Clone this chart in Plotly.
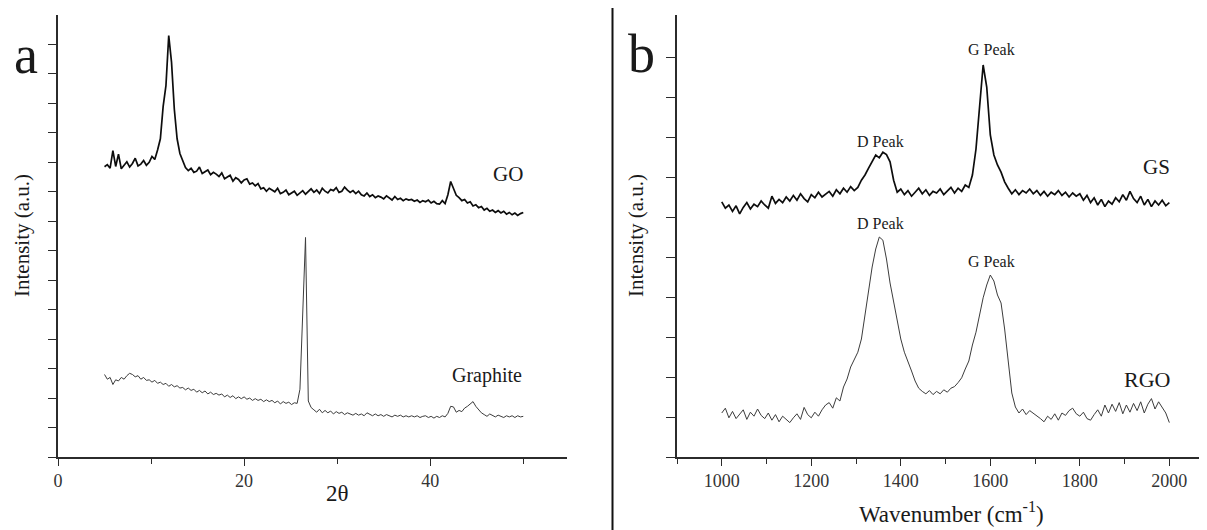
import plotly.graph_objects as go

# ---- panel a : XRD ----
two_theta = [
    5.0, 5.3, 5.6, 5.9, 6.2, 6.5, 6.8, 7.1, 7.4, 7.7,
    8.0, 8.3, 8.6, 8.9, 9.2, 9.5, 9.8, 10.1, 10.4, 10.7,
    11.0, 11.3, 11.6, 11.9, 12.2, 12.5, 12.8, 13.1, 13.4, 13.7,
    14.0, 14.3, 14.6, 14.9, 15.2, 15.5, 15.8, 16.1, 16.4, 16.7,
    17.0, 17.3, 17.6, 17.9, 18.2, 18.5, 18.8, 19.1, 19.4, 19.7,
    20.0, 20.3, 20.6, 20.9, 21.2, 21.5, 21.8, 22.1, 22.4, 22.7,
    23.0, 23.3, 23.6, 23.9, 24.2, 24.5, 24.8, 25.1, 25.4, 25.7,
    26.0, 26.3, 26.6, 26.9, 27.2, 27.5, 27.8, 28.1, 28.4, 28.7,
    29.0, 29.3, 29.6, 29.9, 30.2, 30.5, 30.8, 31.1, 31.4, 31.7,
    32.0, 32.3, 32.6, 32.9, 33.2, 33.5, 33.8, 34.1, 34.4, 34.7,
    35.0, 35.3, 35.6, 35.9, 36.2, 36.5, 36.8, 37.1, 37.4, 37.7,
    38.0, 38.3, 38.6, 38.9, 39.2, 39.5, 39.8, 40.1, 40.4, 40.7,
    41.0, 41.3, 41.6, 41.9, 42.2, 42.5, 42.8, 43.1, 43.4, 43.7,
    44.0, 44.3, 44.6, 44.9, 45.2, 45.5, 45.8, 46.1, 46.4, 46.7,
    47.0, 47.3, 47.6, 47.9, 48.2, 48.5, 48.8, 49.1, 49.4, 49.7,
    50.0,
]
go_intensity = [
    9.85, 9.92, 9.80, 10.40, 9.86, 10.28, 9.78, 9.90, 10.02, 9.84,
    9.96, 10.14, 9.88, 9.94, 10.06, 9.90, 10.00, 10.20, 10.10, 10.42,
    10.80, 11.90, 12.60, 14.30, 13.40, 11.80, 10.80, 10.30, 10.05, 9.82,
    9.72, 9.80, 9.66, 9.70, 9.84, 9.62, 9.68, 9.74, 9.58, 9.66,
    9.60, 9.52, 9.64, 9.44, 9.50, 9.56, 9.36, 9.48, 9.42, 9.30,
    9.40, 9.44, 9.26, 9.30, 9.20, 9.28, 9.10, 9.14, 9.02, 9.12,
    9.06, 9.00, 9.12, 8.94, 8.98, 9.06, 8.90, 8.96, 9.02, 8.88,
    8.96, 9.04, 8.92, 9.00, 9.10, 8.98, 9.06, 8.94, 9.12, 9.02,
    8.96, 9.08, 9.04, 9.14, 8.98, 9.02, 9.16, 9.06, 8.98, 9.04,
    8.94, 9.02, 8.90, 8.86, 8.96, 8.84, 8.90, 8.80, 8.86, 8.82,
    8.76, 8.86, 8.80, 8.72, 8.84, 8.74, 8.78, 8.70, 8.76, 8.72,
    8.74, 8.68, 8.72, 8.64, 8.70, 8.66, 8.72, 8.62, 8.68, 8.60,
    8.58, 8.70, 8.60, 8.90, 9.35, 9.10, 8.88, 8.80, 8.70, 8.74,
    8.62, 8.66, 8.52, 8.56, 8.46, 8.50, 8.38, 8.44, 8.34, 8.38,
    8.30, 8.36, 8.28, 8.34, 8.24, 8.30, 8.22, 8.28, 8.20, 8.26,
    8.30,
]
graphite_intensity = [
    2.80, 2.64, 2.70, 2.46, 2.62, 2.58, 2.70, 2.64, 2.76, 2.84,
    2.80, 2.72, 2.76, 2.64, 2.70, 2.60, 2.62, 2.54, 2.60, 2.50,
    2.54, 2.46, 2.50, 2.40, 2.46, 2.38, 2.42, 2.34, 2.36, 2.28,
    2.34, 2.26, 2.30, 2.20, 2.26, 2.18, 2.24, 2.14, 2.20, 2.12,
    2.16, 2.10, 2.14, 2.04, 2.10, 2.02, 2.08, 1.98, 2.04, 1.98,
    2.04, 1.96, 2.00, 1.92, 1.98, 1.92, 1.96, 1.88, 1.94, 1.88,
    1.92, 1.84, 1.90, 1.80, 1.88, 1.82, 1.86, 1.78, 1.84, 1.82,
    2.30, 4.60, 7.45, 1.90, 1.68, 1.60, 1.52, 1.62, 1.50, 1.58,
    1.50, 1.56, 1.46, 1.54, 1.48, 1.52, 1.44, 1.50, 1.46, 1.42,
    1.48, 1.42, 1.46, 1.40, 1.50, 1.44, 1.40, 1.46, 1.40, 1.44,
    1.38, 1.44, 1.40, 1.36, 1.42, 1.38, 1.42, 1.36, 1.40, 1.36,
    1.40, 1.36, 1.40, 1.34, 1.38, 1.40, 1.34, 1.38, 1.32, 1.38,
    1.34, 1.40, 1.36, 1.48, 1.72, 1.70, 1.52, 1.58, 1.54, 1.66,
    1.72, 1.80, 1.88, 1.72, 1.60, 1.50, 1.44, 1.38, 1.46, 1.40,
    1.36, 1.42, 1.38, 1.34, 1.40, 1.36, 1.40, 1.34, 1.40, 1.36,
    1.38,
]

# ---- panel b : Raman ----
wavenumber = [
    1000, 1008, 1016, 1024, 1032, 1040, 1048, 1056, 1064, 1072,
    1080, 1088, 1096, 1104, 1112, 1120, 1128, 1136, 1144, 1152,
    1160, 1168, 1176, 1184, 1192, 1200, 1208, 1216, 1224, 1232,
    1240, 1248, 1256, 1264, 1272, 1280, 1288, 1296, 1304, 1312,
    1320, 1328, 1336, 1344, 1352, 1360, 1368, 1376, 1384, 1392,
    1400, 1408, 1416, 1424, 1432, 1440, 1448, 1456, 1464, 1472,
    1480, 1488, 1496, 1504, 1512, 1520, 1528, 1536, 1544, 1552,
    1560, 1568, 1576, 1584, 1592, 1600, 1608, 1616, 1624, 1632,
    1640, 1648, 1656, 1664, 1672, 1680, 1688, 1696, 1704, 1712,
    1720, 1728, 1736, 1744, 1752, 1760, 1768, 1776, 1784, 1792,
    1800, 1808, 1816, 1824, 1832, 1840, 1848, 1856, 1864, 1872,
    1880, 1888, 1896, 1904, 1912, 1920, 1928, 1936, 1944, 1952,
    1960, 1968, 1976, 1984, 1992, 2000,
]
gs_intensity = [
    6.38, 6.22, 6.30, 6.14, 6.28, 6.08, 6.24, 6.36, 6.20, 6.32,
    6.26, 6.40, 6.30, 6.22, 6.52, 6.34, 6.44, 6.36, 6.50, 6.40,
    6.54, 6.42, 6.58, 6.46, 6.38, 6.56, 6.48, 6.62, 6.50, 6.58,
    6.64, 6.52, 6.68, 6.58, 6.72, 6.62, 6.76, 6.66, 6.74, 6.92,
    7.05, 7.22, 7.40, 7.55, 7.48, 7.62, 7.56, 7.38, 6.92, 6.62,
    6.70, 6.56, 6.66, 6.52, 6.62, 6.72, 6.58, 6.68, 6.54, 6.64,
    6.60, 6.70, 6.56, 6.66, 6.74, 6.60, 6.72, 6.64, 6.80, 6.74,
    7.05, 7.70, 8.85, 9.80, 9.25, 8.05, 7.55, 7.30, 7.12, 6.88,
    6.72, 6.58, 6.68, 6.56, 6.66, 6.60, 6.70, 6.58, 6.66, 6.54,
    6.64, 6.52, 6.62, 6.56, 6.66, 6.54, 6.62, 6.50, 6.60, 6.52,
    6.58, 6.42, 6.54, 6.36, 6.48, 6.30, 6.44, 6.26, 6.40, 6.32,
    6.48, 6.38, 6.56, 6.42, 6.64, 6.46, 6.36, 6.52, 6.30, 6.44,
    6.26, 6.40, 6.30, 6.42, 6.28, 6.36,
]
rgo_intensity = [
    1.10, 1.22, 0.98, 1.14, 0.96, 1.08, 1.18, 0.94, 1.12, 1.02,
    1.20, 1.04, 0.96, 1.10, 0.92, 1.06, 0.88, 1.02, 0.94, 0.86,
    0.98, 1.08, 0.94, 1.24, 1.06, 0.98, 1.12, 1.02, 1.18, 1.30,
    1.36, 1.22, 1.48, 1.40, 1.75, 1.95, 2.25, 2.45, 2.62, 2.95,
    3.55, 4.15, 4.75, 5.20, 5.50, 5.42, 4.95, 4.35, 3.85, 3.35,
    2.95, 2.62, 2.40, 2.15, 1.90, 1.72, 1.64, 1.58, 1.66, 1.56,
    1.64, 1.58, 1.68, 1.62, 1.72, 1.76, 1.86, 1.98, 2.20, 2.40,
    2.80, 3.12, 3.55, 3.98, 4.30, 4.55, 4.40, 4.05, 3.85, 3.20,
    2.40, 1.60, 1.25, 1.10, 1.20, 1.06, 1.16, 1.10, 1.04, 0.96,
    0.88, 1.02, 0.94, 1.08, 0.92, 1.10, 1.04, 1.16, 1.22, 1.08,
    1.02, 1.12, 0.96, 0.92, 1.06, 1.18, 1.02, 1.30, 1.10, 1.32,
    1.14, 1.36, 1.08, 1.30, 1.12, 1.34, 1.16, 1.38, 1.10, 1.32,
    1.46, 1.20, 1.38, 1.24, 1.10, 0.86,
]

FONT = "Liberation Serif"
AXC = "#2b2b2b"
W, H, OFF = 1207, 530, 8   # page body margin shifts the plot by 8 px


def px(x):
    return (x - OFF) / W


def py(y):
    return (H - (y - OFF)) / H


fig = go.Figure()
fig.add_trace(go.Scatter(x=two_theta, y=go_intensity, mode="lines",
                         line=dict(color="#0d0d0d", width=1.7), xaxis="x", yaxis="y"))
fig.add_trace(go.Scatter(x=two_theta, y=graphite_intensity, mode="lines",
                         line=dict(color="#3c3c3c", width=1.0), xaxis="x", yaxis="y"))
fig.add_trace(go.Scatter(x=wavenumber, y=gs_intensity, mode="lines",
                         line=dict(color="#0d0d0d", width=1.7), xaxis="x2", yaxis="y2"))
fig.add_trace(go.Scatter(x=wavenumber, y=rgo_intensity, mode="lines",
                         line=dict(color="#3c3c3c", width=1.0), xaxis="x2", yaxis="y2"))

left_dom = [px(58), px(567)]
right_dom = [px(677), 1.0]
y_dom = [py(457), py(15)]

base = dict(showgrid=False, zeroline=False, showline=True, linecolor=AXC, linewidth=1.6,
            automargin=False, tickcolor=AXC, tickwidth=1.4,
            tickfont=dict(family=FONT, size=18, color="#333"))

fig.update_layout(
    width=W, height=H, autosize=False,
    margin=dict(l=0, r=0, t=0, b=0, pad=0),
    paper_bgcolor="white", plot_bgcolor="white",
    showlegend=False,
    font=dict(family=FONT, color="#222"),
    xaxis=dict(base, domain=left_dom, anchor="y", range=[0, 54.7], tickmode="linear",
               tick0=0, dtick=20, ticks="outside", ticklen=7,
               minor=dict(dtick=10, ticks="outside", ticklen=5, tickcolor=AXC)),
    yaxis=dict(base, domain=y_dom, anchor="x", range=[0, 15], tickvals=list(range(0, 15)),
               ticks="outside", ticklen=8, showticklabels=False),
    xaxis3=dict(base, overlaying="x", anchor="y", side="top", range=[0, 9.1],
                tickvals=[1, 2, 3, 4, 5, 6, 7, 8], ticks="inside", ticklen=6,
                showticklabels=False),
    yaxis3=dict(base, overlaying="y", anchor="x", side="right", range=[0, 15],
                tickvals=[1.5, 3, 4.5, 6, 7.5, 9, 10.5, 12, 13.5], ticks="inside",
                ticklen=8, showticklabels=False),
    xaxis2=dict(base, domain=right_dom, anchor="y2", range=[900, 2102], tickmode="linear",
                tick0=1000, dtick=200, ticks="outside", ticklen=7,
                minor=dict(dtick=100, ticks="outside", ticklen=5, tickcolor=AXC)),
    yaxis2=dict(base, domain=y_dom, anchor="x2", range=[0, 11.05],
                tickvals=list(range(0, 11)), ticks="outside", ticklen=9,
                showticklabels=False),
    xaxis4=dict(base, overlaying="x2", anchor="y2", side="top", range=[0, 10],
                tickvals=[1, 2, 3, 4, 5, 6, 7, 8, 9], ticks="inside", ticklen=5,
                showticklabels=False),
    yaxis4=dict(base, overlaying="y2", anchor="x2", side="right", range=[0, 11.05],
                tickvals=[2.21, 4.42, 6.63, 8.84], ticks="inside",
                ticklen=10, showticklabels=False),
)

# divider between the two panels
fig.add_shape(type="line", xref="paper", yref="paper", x0=px(612.5), x1=px(612.5),
              y0=0, y1=1.05, line=dict(color="#111", width=2))


def note(text, x, y, size, xref="x", yref="y", angle=0):
    fig.add_annotation(text=text, x=x, y=y, xref=xref, yref=yref, showarrow=False,
                       textangle=angle, xanchor="center", yanchor="middle",
                       font=dict(family=FONT, size=size, color="#1a1a1a"))


note("GO", 48.4, 9.6, 21)
note("Graphite", 46.1, 2.75, 20)
note("D Peak", 1355, 7.9, 16, "x2", "y2")
note("G Peak", 1603, 10.2, 16, "x2", "y2")
note("GS", 1972, 7.25, 21, "x2", "y2")
note("D Peak", 1355, 5.85, 16, "x2", "y2")
note("G Peak", 1603, 4.9, 16, "x2", "y2")
note("RGO", 1950, 1.95, 22, "x2", "y2")

note("a", px(26), py(55), 54, "paper", "paper")
note("b", px(641), py(54), 54, "paper", "paper")
note("Intensity (a.u.)", px(22), py(236), 21, "paper", "paper", -90)
note("Intensity (a.u.)", px(636), py(236), 21, "paper", "paper", -90)
note("2θ", px(337), py(493), 23, "paper", "paper")
note("Wavenumber (cm<sup>-1</sup>)", px(951), py(512), 23, "paper", "paper")

fig.write_html("out.html")
